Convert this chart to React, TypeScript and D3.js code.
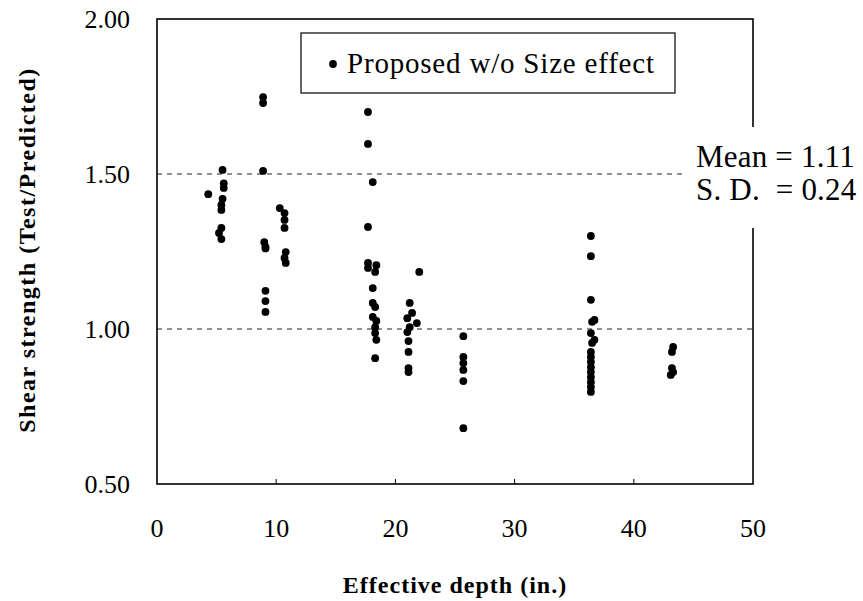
import React from "react";
import * as d3 from "d3";

// Effective depth (in.) of each specimen
const depths: number[] = [
  4.3, 5.5, 5.6, 5.6, 5.5, 5.4, 5.4, 5.4, 5.2, 5.4,
  8.9, 8.9, 8.9, 9.0, 9.1, 9.1, 9.1, 9.1, 9.1,
  10.3, 10.7, 10.7, 10.7, 10.8, 10.7, 10.8,
  17.7, 17.7, 18.1, 17.7, 17.7, 17.7, 18.4, 18.3, 18.1, 18.1, 18.3, 18.1, 18.4, 18.3, 18.3, 18.4, 18.3,
  22.0, 21.2, 21.4, 21.0, 21.8, 21.2, 21.0, 21.1, 21.1, 21.1, 21.1,
  25.7, 25.7, 25.7, 25.7, 25.7, 25.7,
  36.4, 36.4, 36.4, 36.5, 36.7, 36.4, 36.7, 36.5, 36.4, 36.4, 36.4, 36.4, 36.4, 36.4, 36.4, 36.4, 36.4,
  43.3, 43.2, 43.2, 43.3, 43.1,
];

// Shear strength ratio (Test/Predicted) of each specimen
const ratios: number[] = [
  1.435, 1.513, 1.47, 1.455, 1.42, 1.40, 1.384, 1.326, 1.31, 1.29,
  1.748, 1.729, 1.51, 1.28, 1.265, 1.26, 1.123, 1.09, 1.055,
  1.39, 1.374, 1.352, 1.326, 1.248, 1.229, 1.213,
  1.70, 1.597, 1.474, 1.329, 1.213, 1.197, 1.206, 1.184, 1.132, 1.084, 1.071, 1.039, 1.026, 1.006, 0.987, 0.965, 0.906,
  1.184, 1.084, 1.052, 1.035, 1.019, 1.006, 0.99, 0.961, 0.926, 0.874, 0.861,
  0.977, 0.91, 0.89, 0.868, 0.832, 0.68,
  1.30, 1.235, 1.094, 1.023, 1.029, 0.987, 0.965, 0.955, 0.926, 0.91, 0.894, 0.877, 0.861, 0.845, 0.829, 0.813, 0.797,
  0.942, 0.926, 0.874, 0.861, 0.852,
];

const xTicks: number[] = [0, 10, 20, 30, 40, 50];
const yTicks: number[] = [0.5, 1.0, 1.5, 2.0];
const refLines: number[] = [1.0, 1.5];

const legendLabel = "Proposed w/o Size effect";
const statLines: string[] = ["Mean = 1.11", "S. D.  = 0.24"];
const xTitle = "Effective depth (in.)";
const yTitle = "Shear strength (Test/Predicted)";

const W = 863;
const H = 601;
const left = 157;
const right = 753;
const top = 19;
const bottom = 484;

const serif = "'Liberation Serif', 'Times New Roman', serif";

export default function App() {
  const x = d3.scaleLinear().domain([0, 50]).range([left, right]);
  const y = d3.scaleLinear().domain([0.5, 2.0]).range([bottom, top]);
  const points = depths.map((d, i) => ({ d, r: ratios[i] }));

  return (
    <svg
      width={W}
      height={H}
      style={{ position: "absolute", left: 0, top: 0, background: "#fff" }}
      fontFamily={serif}
    >
      <rect x={0} y={0} width={W} height={H} fill="#fff" />

      {/* reference lines */}
      {refLines.map((v) => (
        <line
          key={v}
          x1={left}
          x2={right}
          y1={y(v)}
          y2={y(v)}
          stroke="#222"
          strokeWidth={1}
          strokeDasharray="5,5"
        />
      ))}

      {/* plot frame */}
      <rect
        x={left}
        y={top}
        width={right - left}
        height={bottom - top}
        fill="none"
        stroke="#000"
        strokeWidth={1.6}
      />

      {/* inward x ticks */}
      {xTicks.slice(1, -1).map((t) => (
        <line key={t} x1={x(t)} x2={x(t)} y1={bottom} y2={bottom - 5} stroke="#000" strokeWidth={1} />
      ))}

      {/* data points */}
      {points.map((p, i) => (
        <circle key={i} cx={x(p.d)} cy={y(p.r)} r={3.9} fill="#000" />
      ))}

      {/* x tick labels */}
      {xTicks.map((t) => (
        <text key={t} x={x(t)} y={537} fontSize={26} textAnchor="middle" fill="#000">
          {t}
        </text>
      ))}

      {/* y tick labels */}
      {yTicks.map((t) => (
        <text
          key={t}
          x={130}
          y={y(t) + 9}
          fontSize={26}
          textAnchor="end"
          fill="#000"
        >
          {t.toFixed(2)}
        </text>
      ))}

      {/* axis titles */}
      <text
        x={455}
        y={593}
        fontSize={24}
        fontWeight="bold"
        letterSpacing={1}
        textAnchor="middle"
        fill="#000"
      >
        {xTitle}
      </text>
      <text
        transform={`translate(35, 250) rotate(-90)`}
        fontSize={24}
        fontWeight="bold"
        letterSpacing={1.5}
        textAnchor="middle"
        fill="#000"
      >
        {yTitle}
      </text>

      {/* legend */}
      <rect x={301} y={33} width={374} height={60} fill="#fff" stroke="#000" strokeWidth={1.2} />
      <circle cx={333} cy={64} r={3.9} fill="#000" />
      <text x={347} y={73} fontSize={29} letterSpacing={0.8} fill="#000">
        {legendLabel}
      </text>

      {/* statistics note */}
      <rect x={682} y={127} width={W - 682} height={101} fill="#fff" />
      {statLines.map((s, i) => (
        <text
          key={i}
          x={696}
          y={167 + i * 33}
          fontSize={31}
          letterSpacing={0.2}
          fill="#000"
          style={{ whiteSpace: "pre" }}
        >
          {s}
        </text>
      ))}
    </svg>
  );
}
